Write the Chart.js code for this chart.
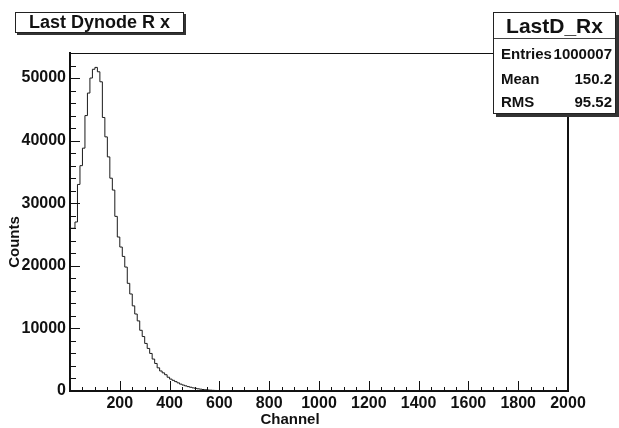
<!DOCTYPE html>
<html>
<head>
<meta charset="utf-8">
<script src="https://cdn.jsdelivr.net/npm/chart.js@4"></script>
<style>
  html, body { margin: 0; padding: 0; background: #fff; }
  #wrap { position: relative; width: 619px; height: 428px; overflow: hidden; background: #fff; }
  canvas { position: absolute; left: 0; top: 0; }
  .pave { position: absolute; background: #fff; border: 1px solid #222; font-family: "Liberation Sans", Arial, sans-serif; font-weight: bold; color: #111; box-sizing: border-box; }
  #title { left: 15px; top: 12px; width: 169px; height: 21px; box-shadow: 2px 2px 0 #333; font-size: 18px; line-height: 19px; text-align: center; }
  #stats { left: 493px; top: 12px; width: 123px; height: 102px; box-shadow: 3px 3px 0 #333; }
  #stats .hdr { height: 25px; border-bottom: 1px solid #444; font-size: 21px; line-height: 25px; text-align: center; }
  #stats .row { position: absolute; left: 7px; right: 3px; height: 18px; font-size: 15px; line-height: 18px; }
  #stats .row span.v { position: absolute; right: 0; }
</style>
</head>
<body>
<div id="wrap">
  <canvas id="c" width="619" height="428"></canvas>
  <div id="title" class="pave">Last Dynode R x</div>
  <div id="stats" class="pave">
    <div class="hdr">LastD_Rx</div>
    <div class="row" style="top:32px"><span>Entries</span><span class="v">1000007</span></div>
    <div class="row" style="top:57px"><span>Mean</span><span class="v">150.2</span></div>
    <div class="row" style="top:80px"><span>RMS</span><span class="v">95.52</span></div>
  </div>
</div>
<script>
// ---- data ----
const histName = "LastD_Rx";
const titleText = "Last Dynode R x";
const xTitle = "Channel";
const yTitle = "Counts";
const binWidth = 10;           // channels per bin
const xMin = 0;
const xMax = 2000;
const yMax = 54000;
const counts = [
  26000, 26000, 27000, 33000, 36000, 38800, 44000, 47600, 50000, 51400,
  51700, 51000, 49400, 43700, 40600, 37400, 34000, 32100, 27900, 24600,
  23000, 21500, 19800, 17200, 15500, 13600, 12300, 11200, 9700, 8700,
  7600, 6800, 6000, 5100, 4400, 3700, 3200, 2900, 2600, 2200,
  1900, 1700, 1500, 1300, 1100, 950, 820, 700, 600, 500,
  420, 350, 290, 240, 195, 160, 130, 105, 85, 65,
  50, 38, 28, 20, 14, 10, 7, 5, 3, 2,
  1, 1, 0, 0, 0, 0, 0, 0, 0, 0,
  0, 0, 0, 0, 0, 0, 0, 0, 0, 0,
  0, 0, 0, 0, 0, 0, 0, 0, 0, 0,
  0, 0, 0, 0, 0, 0, 0, 0, 0, 0,
  0, 0, 0, 0, 0, 0, 0, 0, 0, 0,
  0, 0, 0, 0, 0, 0, 0, 0, 0, 0,
  0, 0, 0, 0, 0, 0, 0, 0, 0, 0,
  0, 0, 0, 0, 0, 0, 0, 0, 0, 0,
  0, 0, 0, 0, 0, 0, 0, 0, 0, 0,
  0, 0, 0, 0, 0, 0, 0, 0, 0, 0,
  0, 0, 0, 0, 0, 0, 0, 0, 0, 0,
  0, 0, 0, 0, 0, 0, 0, 0, 0, 0,
  0, 0, 0, 0, 0, 0, 0, 0, 0, 0
];
const xMajorTicks = [0, 200, 400, 600, 800, 1000, 1200, 1400, 1600, 1800, 2000];
const yMajorTicks = [0, 10000, 20000, 30000, 40000, 50000];
const xMinorStep = 50;
const yMinorStep = 2000;

// ---- build step points (bin lower edges) ----
const points = [{ x: xMin, y: 0 }];
counts.forEach((c, i) => points.push({ x: xMin + i * binWidth, y: c }));
points.push({ x: xMax, y: counts[counts.length - 1] });

const FONT = "'Liberation Sans', Arial, Helvetica, sans-serif";
const INK = '#111';

const rootFrame = {
  id: 'rootFrame',
  afterDraw(chart) {
    const ctx = chart.ctx;
    const { left, right, top, bottom } = chart.chartArea;
    const xs = chart.scales.x, ys = chart.scales.y;
    ctx.save();
    ctx.strokeStyle = INK;
    // top and right frame
    ctx.lineWidth = 1;
    ctx.beginPath(); ctx.moveTo(left, top + 0.5); ctx.lineTo(right, top + 0.5); ctx.stroke();
    ctx.lineWidth = 2;
    ctx.beginPath(); ctx.moveTo(right, top); ctx.lineTo(right, bottom + 1); ctx.stroke();
    // x ticks (inward)
    ctx.lineWidth = 1;
    ctx.beginPath();
    for (let v = xMin; v <= xMax; v += xMinorStep) {
      const px = Math.round(xs.getPixelForValue(v)) + 0.5;
      const len = xMajorTicks.includes(v) ? 10 : 4;
      ctx.moveTo(px, bottom); ctx.lineTo(px, bottom - len);
    }
    // y ticks (inward)
    for (let v = 0; v <= yMax; v += yMinorStep) {
      const py = Math.round(ys.getPixelForValue(v)) + 0.5;
      const len = yMajorTicks.includes(v) ? 10 : 6;
      ctx.moveTo(left, py); ctx.lineTo(left + len, py);
    }
    ctx.stroke();
    // axis titles
    ctx.fillStyle = INK;
    ctx.font = 'bold 15px ' + FONT;
    ctx.textAlign = 'center';
    ctx.textBaseline = 'middle';
    ctx.fillText(xTitle, 290, 420);
    ctx.translate(15, 242);
    ctx.rotate(-Math.PI / 2);
    ctx.fillText(yTitle, 0, 0);
    ctx.restore();
  }
};

new Chart(document.getElementById('c'), {
  type: 'line',
  data: {
    datasets: [{
      label: histName,
      data: points,
      stepped: true,
      borderColor: '#1a1a1a',
      borderWidth: 1,
      pointRadius: 0,
      fill: false,
      tension: 0
    }]
  },
  options: {
    responsive: false,
    animation: false,
    events: [],
    layout: { padding: { left: 0, right: 51, top: 53, bottom: 0 } },
    plugins: { legend: { display: false }, tooltip: { enabled: false }, title: { display: false } },
    scales: {
      x: {
        type: 'linear', min: xMin, max: xMax,
        afterBuildTicks: s => { s.ticks = xMajorTicks.map(v => ({ value: v })); },
        afterFit: s => { s.height = 37; },
        ticks: {
          autoSkip: false, maxRotation: 0, padding: 3, color: INK,
          font: { family: FONT, weight: 'bold', size: 16 },
          callback: v => (v === 0 ? '' : String(v))
        },
        grid: { display: false, drawTicks: false },
        border: { display: true, color: INK, width: 2 }
      },
      y: {
        type: 'linear', min: 0, max: yMax,
        afterBuildTicks: s => { s.ticks = yMajorTicks.map(v => ({ value: v })); },
        afterFit: s => { s.width = 70; },
        ticks: {
          autoSkip: false, padding: 4, color: INK,
          font: { family: FONT, weight: 'bold', size: 16 },
          callback: v => String(v)
        },
        grid: { display: false, drawTicks: false },
        border: { display: true, color: INK, width: 2 }
      }
    }
  },
  plugins: [rootFrame]
});
</script>
</body>
</html>
